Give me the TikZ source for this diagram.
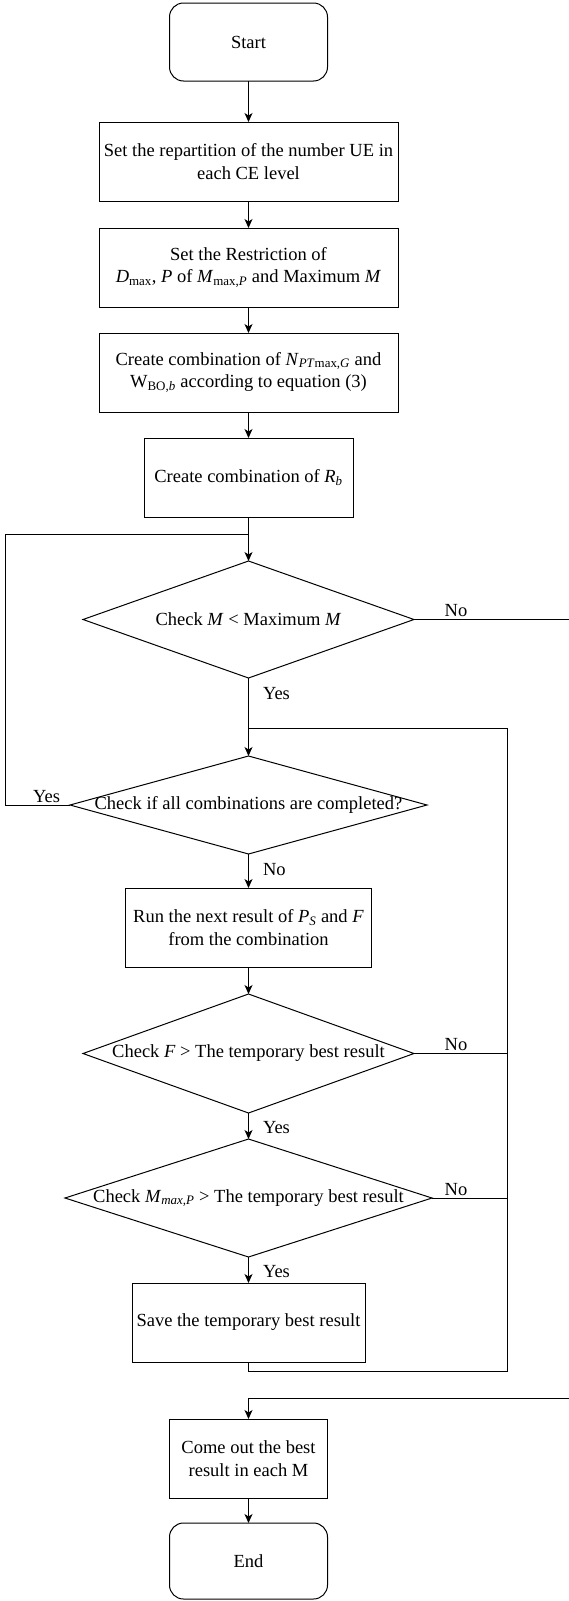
\documentclass[tikz,border=0pt]{standalone}
\usepackage{fontspec}
\setmainfont{Liberation Serif}
\usetikzlibrary{shapes.geometric, arrows.meta, positioning, calc}

\begin{document}
\begin{tikzpicture}[x=1pt, y=1pt, line width=1pt,
    font=\fontsize{18.5}{22.5}\selectfont,
    >={Stealth[length=9pt, width=8pt, inset=2.5pt]},
    term/.style={draw, outer sep=0pt, rounded corners=14pt, minimum width=158pt, minimum height=78pt},
    proc/.style={draw, outer sep=0pt, align=center, minimum height=79pt, inner sep=2pt},
    decision/.style={draw, outer sep=0pt, diamond, inner sep=0pt, label={center:#1}},
    lbl/.style={inner sep=2pt}]
    \useasboundingbox (0,0) rectangle (569,-1601);

    \node[term] (start) at (248.5,-42) {Start};
    \node[proc, minimum width=299pt, below=41pt of start] (repart) {Set the repartition of the number UE in\\each CE level};
    \node[proc, minimum width=299pt, below=27pt of repart] (restr) {Set the Restriction of\\\textit{D}\textsubscript{max}, \textit{P} of \textit{M}\textsubscript{max,\textit{P}} and Maximum \textit{M}};
    \node[proc, minimum width=299pt, below=26pt of restr] (comb) {Create combination of \textit{N}\textsubscript{\textit{PT}max,\textit{G}} and\\W\textsubscript{BO,\textit{b}} according to equation (3)};
    \node[proc, minimum width=209pt, below=26pt of comb] (combR) {Create combination of \textit{R}\textsubscript{\textit{b}}};
    \node[decision={Check \textit{M} < Maximum \textit{M}}, minimum width=331pt, minimum height=117pt, below=44pt of combR] (chkM) {};
    \node[decision={Check if all combinations are completed?}, minimum width=357pt, minimum height=98pt, below=78pt of chkM] (chkAll) {};
    \node[proc, minimum width=246pt, below=34pt of chkAll] (runNext) {Run the next result of \textit{P}\textsubscript{\textit{S}} and \textit{F}\\from the combination};
    \node[decision={Check \textit{F} > The temporary best result}, minimum width=331pt, minimum height=119pt, below=27pt of runNext] (chkF) {};
    \node[decision={Check \textit{M}\textsubscript{\textit{max,P}} > The temporary best result}, minimum width=367pt, minimum height=118pt, below=26pt of chkF] (chkMP) {};
    \node[proc, minimum width=233pt, below=26pt of chkMP] (saveBest) {Save the temporary best result};
    \node[proc, minimum width=158pt, below=57pt of saveBest] (comeOut) {Come out the best\\result in each M};
    \node[term, minimum height=76pt, below=25pt of comeOut] (finish) {End};

    % junctions of the loops
    \coordinate (j1) at ($(chkM.north)+(0,27)$);
    \coordinate (j2) at ($(chkAll.north)+(0,28)$);
    \coordinate (back) at ($(saveBest.south)+(258.5,-9)$);
    \coordinate (edge) at ($(comeOut.north)+(324,21)$);

    \draw[->] (start) -- (repart);
    \draw[->] (repart) -- (restr);
    \draw[->] (restr) -- (comb);
    \draw[->] (comb) -- (combR);
    \draw[->] (combR) -- (chkM);
    \draw[->] (chkM) -- (chkAll);
    \draw[->] (chkAll) -- (runNext);
    \draw[->] (runNext) -- (chkF);
    \draw[->] (chkF) -- (chkMP);
    \draw[->] (chkMP) -- (saveBest);
    \draw[->] (comeOut) -- (finish);

    \draw (chkAll.west) -- node[lbl, above, pos=0.36] (yesAll) {Yes} ++(-65,0) |- (j1);
    \draw (saveBest.south) |- (back) |- (j2);
    \draw (chkF.east) -- (chkF.east -| back);
    \draw (chkMP.east) -- (chkMP.east -| back);
    \draw[->] (chkM.east) -| (edge) -- (comeOut.north |- edge) -- (comeOut.north);

    % branch labels
    \node[lbl, above] (noM) at ($(chkM.east -| back)+(-51,0)$) {No};
    \node[lbl, above] (noF) at ($(chkF.east -| back)+(-51,0)$) {No};
    \node[lbl, above] (noMP) at ($(chkMP.east -| back)+(-51,0)$) {No};
    \node[lbl, anchor=west] (yesM) at ($(chkM.south)+(12,-16)$) {Yes};
    \node[lbl, anchor=west] (noAll) at ($(chkAll.south)+(12,-16)$) {No};
    \node[lbl, anchor=west] (yesF) at ($(chkF.south)+(12,-15)$) {Yes};
    \node[lbl, anchor=west] (yesMP) at ($(chkMP.south)+(12,-15)$) {Yes};
\end{tikzpicture}
\end{document}
